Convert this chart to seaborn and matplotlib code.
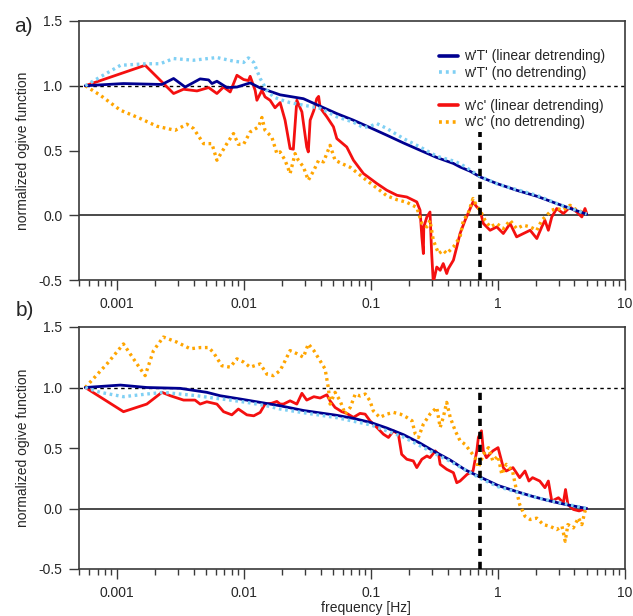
import numpy as np
import pandas as pd
import matplotlib
matplotlib.use("Agg")
import matplotlib.pyplot as plt
import seaborn as sns
from matplotlib.ticker import FixedLocator, FuncFormatter, LogLocator, NullFormatter
from matplotlib.lines import Line2D

# ---------------- data ----------------
cutoff_freq = 0.72          # Hz, vertical dashed marker
cutoff_top_a = 0.64
cutoff_top_b = 1.0

# panel a) -- w'T' linear detrending
f_wT_lin_a = [0.00056, 0.00112, 0.00225, 0.00278, 0.00343, 0.0045, 0.00525, 0.00557, 0.0061,
              0.00731, 0.00877, 0.01115, 0.01337, 0.01652, 0.0192, 0.0293, 0.0397, 0.0537,
              0.0726, 0.098, 0.133, 0.18, 0.243, 0.329, 0.445, 0.502, 0.602, 0.722, 0.977,
              1.40, 2.02, 2.90, 3.92, 4.99]
v_wT_lin_a = [1.0, 1.017, 1.01, 1.056, 0.99, 1.053, 1.045, 1.017, 1.035,
              0.986, 0.99, 1.022, 0.983, 0.952, 0.93, 0.90, 0.842, 0.785,
              0.734, 0.677, 0.618, 0.558, 0.502, 0.446, 0.40, 0.373, 0.34, 0.296, 0.245,
              0.193, 0.147, 0.09, 0.044, 0.008]

# panel a) -- w'T' no detrending
f_wT_raw_a = [0.00056, 0.000735, 0.00106, 0.00171, 0.00218, 0.00278, 0.00399, 0.0061, 0.00824,
              0.0099, 0.0108, 0.0119, 0.01337, 0.0151, 0.017, 0.0192, 0.0229, 0.0293, 0.0397,
              0.0537, 0.072, 0.087, 0.098, 0.111, 0.133, 0.18, 0.243, 0.329, 0.445, 0.502,
              0.722, 1.0, 2.02, 3.0, 4.99]
v_wT_raw_a = [1.0, 1.068, 1.158, 1.17, 1.17, 1.21, 1.197, 1.218, 1.19,
              1.18, 1.215, 1.18, 1.056, 0.965, 0.914, 0.893, 0.87, 0.85, 0.826,
              0.76, 0.72, 0.677, 0.687, 0.708, 0.67, 0.592, 0.527, 0.456, 0.419, 0.399,
              0.30, 0.239, 0.154, 0.085, 0.01]

# panel a) -- w'c' linear detrending
f_wc_lin_a = [0.00056, 0.00166, 0.00278, 0.00333, 0.00425, 0.00525, 0.0061, 0.00688, 0.00776,
              0.00877, 0.0099, 0.0108, 0.01115, 0.0122, 0.0126, 0.0138, 0.0146, 0.016, 0.0175,
              0.0192, 0.021, 0.023, 0.0244, 0.026, 0.0285, 0.0311, 0.032, 0.0331, 0.0354,
              0.0373, 0.0386, 0.0397, 0.0448, 0.0505, 0.0537, 0.0643, 0.0726, 0.087, 0.111,
              0.133, 0.16, 0.191, 0.229, 0.243, 0.251, 0.258, 0.26, 0.275, 0.291, 0.30, 0.309,
              0.329, 0.35, 0.37, 0.394, 0.406, 0.445, 0.473, 0.502, 0.55, 0.58, 0.635, 0.68,
              0.722, 0.766, 0.865, 0.977, 1.10, 1.245, 1.40, 1.585, 1.79, 2.02, 2.21, 2.34,
              2.49, 2.65, 2.90, 3.27, 3.69, 4.17, 4.57, 4.84, 4.99]
v_wc_lin_a = [1.0, 1.158, 0.94, 0.973, 0.96, 0.986, 0.94, 0.99, 0.952,
              1.081, 1.048, 1.04, 1.073, 0.965, 0.888, 0.965, 0.914, 0.888, 0.83,
              0.87, 0.734, 0.515, 0.51, 0.888, 0.798, 0.527, 0.489, 0.734, 0.81,
              0.90, 0.918, 0.83, 0.76, 0.683, 0.592, 0.527, 0.425, 0.322, 0.245,
              0.193, 0.154, 0.141, 0.103, 0.039, -0.167, -0.296, -0.09, -0.013, 0.025, -0.296, -0.52,
              -0.40, -0.425, -0.373, -0.45, -0.412, -0.347, -0.245, -0.141, -0.039, 0.013, 0.103, 0.064,
              0.039, -0.064, -0.116, -0.09, -0.141, -0.064, -0.167, -0.141, -0.116, -0.18, -0.09, -0.039,
              -0.116, -0.013, 0.052, 0.013, 0.064, 0.025, -0.013, 0.052, 0.013]

# panel a) -- w'c' no detrending
f_wc_raw_a = [0.00056, 0.000735, 0.00106, 0.00152, 0.00206, 0.00286, 0.00354, 0.00399, 0.00479,
              0.00557, 0.0061, 0.00731, 0.00824, 0.009, 0.0099, 0.01115, 0.013, 0.0138, 0.0146,
              0.0165, 0.0181, 0.0192, 0.021, 0.023, 0.0252, 0.0267, 0.0293, 0.032, 0.0354,
              0.0386, 0.0422, 0.0475, 0.052, 0.0588, 0.0685, 0.0772, 0.092, 0.111, 0.133, 0.16,
              0.191, 0.229, 0.251, 0.275, 0.291, 0.309, 0.34, 0.37, 0.394, 0.445, 0.502, 0.533,
              0.58, 0.635, 0.68, 0.722, 0.79, 0.865, 0.977, 1.10, 1.245, 1.40, 1.585, 1.79,
              2.02, 2.21, 2.42, 2.65, 2.90, 3.27, 3.69, 4.17, 4.57, 4.99]
v_wc_raw_a = [1.0, 0.927, 0.811, 0.747, 0.687, 0.656, 0.703, 0.67, 0.553,
              0.553, 0.425, 0.553, 0.631, 0.548, 0.548, 0.643, 0.683, 0.755, 0.656,
              0.605, 0.476, 0.489, 0.425, 0.322, 0.476, 0.425, 0.373, 0.27, 0.347,
              0.425, 0.412, 0.54, 0.425, 0.399, 0.37, 0.33, 0.27, 0.21, 0.15, 0.12,
              0.10, 0.06, -0.064, -0.09, -0.039, -0.193, -0.296, -0.27, -0.296, -0.245, -0.167, -0.039,
              0.013, 0.129, 0.07, 0.039, -0.039, -0.09, -0.064, -0.103, -0.039, -0.103, -0.077, -0.09,
              -0.116, -0.039, 0.0, 0.039, 0.052, 0.039, 0.077, 0.039, 0.026, 0.013]

# panel b) -- w'T' linear detrending
f_wT_lin_b = [0.00056, 0.00106, 0.00171, 0.00313, 0.00508, 0.00647, 0.0093, 0.01337, 0.0192,
              0.0293, 0.0537, 0.0726, 0.1, 0.133, 0.18, 0.243, 0.31, 0.42, 0.55, 0.722, 1.0,
              1.4, 1.87, 2.5, 3.4, 4.99]
v_wT_lin_b = [1.0, 1.02, 1.0, 0.993, 0.96, 0.932, 0.905, 0.877, 0.849,
              0.81, 0.77, 0.745, 0.71, 0.665, 0.61, 0.54, 0.475, 0.40, 0.32, 0.26, 0.19,
              0.14, 0.10, 0.065, 0.033, 0.0]

# panel b) -- w'T' no detrending
f_wT_raw_b = [0.00056, 0.000735, 0.00112, 0.00171, 0.00231, 0.00313, 0.00425, 0.00572, 0.00776,
              0.0105, 0.015, 0.0192, 0.03, 0.054, 0.1, 0.18, 0.31, 0.42, 0.722, 1.0, 2.0, 4.99]
v_wT_raw_b = [1.0, 0.96, 0.924, 0.946, 0.96, 0.946, 0.932, 0.913, 0.896,
              0.877, 0.849, 0.822, 0.79, 0.75, 0.69, 0.59, 0.46, 0.39, 0.25, 0.18, 0.09, 0.0]

# panel b) -- w'c' linear detrending
f_wc_lin_b = [0.00056, 0.00112, 0.00171, 0.00225, 0.00262, 0.00333, 0.0041, 0.0045, 0.00508,
              0.0061, 0.00688, 0.008, 0.009, 0.0105, 0.0119, 0.01337, 0.0146, 0.0165, 0.0181,
              0.0192, 0.0204, 0.023, 0.026, 0.0285, 0.0311, 0.0354, 0.0397, 0.0448, 0.0475,
              0.052, 0.0588, 0.0643, 0.0726, 0.0818, 0.0897, 0.098, 0.111, 0.125, 0.137, 0.15,
              0.164, 0.174, 0.191, 0.215, 0.229, 0.251, 0.275, 0.291, 0.32, 0.34, 0.35, 0.394,
              0.445, 0.473, 0.502, 0.57, 0.635, 0.68, 0.70, 0.74, 0.766, 0.81, 0.91, 1.0, 1.10,
              1.16, 1.31, 1.48, 1.63, 1.75, 1.87, 2.13, 2.34, 2.49, 2.65, 2.99, 3.27, 3.4, 3.55,
              3.92, 4.35, 4.99]
v_wc_lin_b = [1.0, 0.80, 0.863, 0.96, 0.932, 0.896, 0.896, 0.863, 0.882,
              0.863, 0.80, 0.774, 0.822, 0.774, 0.766, 0.794, 0.863, 0.87, 0.885,
              0.863, 0.863, 0.89, 0.863, 0.952, 0.896, 0.924, 0.913, 0.94, 0.89,
              0.835, 0.80, 0.786, 0.753, 0.786, 0.78, 0.725, 0.67, 0.614, 0.587, 0.642,
              0.614, 0.448, 0.407, 0.393, 0.338, 0.407, 0.434, 0.42, 0.476, 0.448, 0.365, 0.324,
              0.296, 0.213, 0.227, 0.282, 0.31, 0.476, 0.587, 0.642, 0.476, 0.42, 0.476, 0.503, 0.338,
              0.31, 0.338, 0.255, 0.31, 0.227, 0.255, 0.227, 0.172, 0.227, 0.061, 0.089, 0.047, 0.157, 0.033,
              -0.008, -0.02, 0.0]

# panel b) -- w'c' no detrending
f_wc_raw_b = [0.00056, 0.00083, 0.00112, 0.00143, 0.00166, 0.00193, 0.00231, 0.00295, 0.00376,
              0.0045, 0.00525, 0.00572, 0.00667, 0.00776, 0.00877, 0.0099, 0.01115, 0.01337,
              0.0151, 0.017, 0.0192, 0.021, 0.023, 0.026, 0.0293, 0.032, 0.0354, 0.0397, 0.0434,
              0.046, 0.0475, 0.052, 0.057, 0.0625, 0.0685, 0.075, 0.082, 0.09, 0.098, 0.104,
              0.117, 0.133, 0.15, 0.17, 0.191, 0.21, 0.223, 0.236, 0.258, 0.291, 0.329, 0.35,
              0.37, 0.394, 0.42, 0.46, 0.502, 0.55, 0.602, 0.66, 0.70, 0.766, 0.84, 0.91, 1.0,
              1.07, 1.16, 1.30, 1.40, 1.48, 1.63, 1.79, 2.02, 2.27, 2.57, 2.90, 3.19, 3.38,
              3.55, 3.92, 4.3, 4.57, 4.84, 4.99]
v_wc_raw_b = [1.0, 1.195, 1.36, 1.195, 1.098, 1.305, 1.417, 1.375, 1.32,
              1.33, 1.33, 1.29, 1.18, 1.168, 1.237, 1.21, 1.168, 1.195,
              1.11, 1.098, 1.14, 1.22, 1.305, 1.28, 1.25, 1.36, 1.305, 1.22, 1.153,
              1.0, 0.863, 0.96, 0.89, 0.78, 0.835, 0.946, 0.93, 0.946, 0.89, 0.807,
              0.753, 0.78, 0.794, 0.78, 0.753, 0.725, 0.614, 0.587, 0.697, 0.78, 0.835, 0.67,
              0.753, 0.877, 0.753, 0.642, 0.56, 0.53, 0.476, 0.42, 0.338, 0.448, 0.503, 0.393, 0.434,
              0.282, 0.365, 0.31, 0.144, 0.033, -0.064, -0.091, -0.08, -0.133, -0.147, -0.174, -0.147, -0.271,
              -0.133, -0.16, -0.077, -0.133, -0.022, 0.0]

series_labels = ["w'T' (linear detrending)", "w'T' (no detrending)",
                 "w'c' (linear detrending)", "w'c' (no detrending)"]

# ---------------- styling ----------------
sns.set_theme(style="ticks")
plt.rcParams["font.family"] = ["Liberation Sans", "DejaVu Sans"]
plt.rcParams["axes.unicode_minus"] = False

c_navy = "#000090"
c_sky = "#80d0f4"
c_red = "#f41010"
c_orange = "#ffa500"
dot = (0, (0.8, 1.1))

fig = plt.figure(figsize=(6.33, 6.16), dpi=100)
ax_a = fig.add_axes([79 / 633, 1 - 280 / 616, 546 / 633, 259 / 616])
ax_b = fig.add_axes([79 / 633, 1 - 569 / 616, 546 / 633, 242 / 616])


def draw_panel(ax, T_lin, T_raw, c_lin, c_raw, cut_top):
    ax.axhline(0, color="#3a3a3a", lw=1.3, zorder=1)
    ax.axhline(1, color="black", lw=1.0, ls=(0, (2.5, 2.5)), zorder=1)
    sns.lineplot(x=c_lin[0], y=c_lin[1], ax=ax, color=c_red, lw=2.0,
                 sort=False, estimator=None, zorder=3)
    sns.lineplot(x=c_raw[0], y=c_raw[1], ax=ax, color=c_orange, lw=2.4,
                 linestyle=dot, sort=False, estimator=None, zorder=3)
    sns.lineplot(x=T_lin[0], y=T_lin[1], ax=ax, color=c_navy, lw=2.0,
                 sort=False, estimator=None, zorder=4)
    sns.lineplot(x=T_raw[0], y=T_raw[1], ax=ax, color=c_sky, lw=2.4,
                 linestyle=dot, sort=False, estimator=None, zorder=4)
    ax.vlines(cutoff_freq, -0.5, cut_top, color="black", lw=2.6,
              linestyles=[(0, (2.0, 1.6))], zorder=5)

    ax.set_xscale("log")
    ax.set_xlim(0.0005, 10)
    ax.set_ylim(-0.5, 1.5)
    ax.xaxis.set_major_locator(FixedLocator([0.001, 0.01, 0.1, 1, 10]))
    ax.xaxis.set_major_formatter(FuncFormatter(lambda v, p: "%g" % v))
    ax.xaxis.set_minor_locator(LogLocator(base=10, subs=np.arange(2, 10)))
    ax.xaxis.set_minor_formatter(NullFormatter())
    ax.set_yticks([-0.5, 0.0, 0.5, 1.0, 1.5])
    ax.yaxis.set_major_formatter(FuncFormatter(lambda v, p: "%.1f" % v))
    ax.tick_params(which="major", direction="out", length=7, width=1.0,
                   labelsize=10, color="#3a3a3a", pad=5, top=False, right=False)
    ax.tick_params(which="minor", direction="out", length=4, width=1.0,
                   color="#3a3a3a", top=False, right=False)
    for s in ax.spines.values():
        s.set_color("#3a3a3a")
        s.set_linewidth(1.2)
    ax.set_ylabel("normalized ogive function", fontsize=10, labelpad=6)
    ax.set_xlabel("")


draw_panel(ax_a, (f_wT_lin_a, v_wT_lin_a), (f_wT_raw_a, v_wT_raw_a),
           (f_wc_lin_a, v_wc_lin_a), (f_wc_raw_a, v_wc_raw_a), cutoff_top_a)
draw_panel(ax_b, (f_wT_lin_b, v_wT_lin_b), (f_wT_raw_b, v_wT_raw_b),
           (f_wc_lin_b, v_wc_lin_b), (f_wc_raw_b, v_wc_raw_b), cutoff_top_b)

handles = [Line2D([], [], color=c_navy, lw=2.6),
           Line2D([], [], color=c_sky, lw=2.6, ls=dot),
           Line2D([], [], color="none"),
           Line2D([], [], color=c_red, lw=2.6),
           Line2D([], [], color=c_orange, lw=2.6, ls=dot)]
labels = [series_labels[0], series_labels[1], "", series_labels[2], series_labels[3]]
ax_a.legend(handles, labels, loc="upper left", bbox_to_anchor=(0.659, 0.89),
            frameon=False, fontsize=10, handlelength=1.35, handletextpad=0.5,
            labelspacing=0.18, borderpad=0, borderaxespad=0)

fig.text(23 / 633, 1 - 26 / 616, "a)", fontsize=15, ha="center", va="center")
fig.text(25 / 633, 1 - 311 / 616, "b)", fontsize=15, ha="center", va="center")
fig.text(366 / 633, 1 - 608 / 616, "frequency [Hz]", fontsize=10, ha="center", va="center")

fig.savefig("out.png", dpi=100)
